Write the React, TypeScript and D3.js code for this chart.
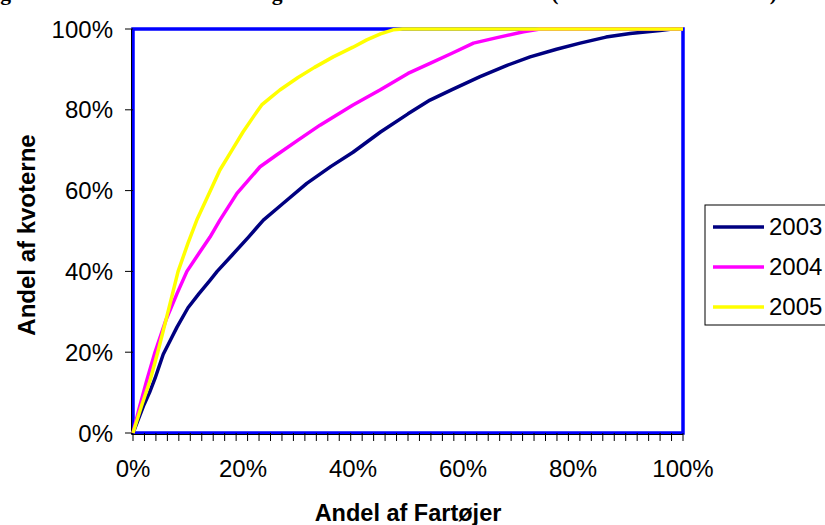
import React from "react";
import * as d3 from "d3";

const titleText =
  "Kumuleret fordeling af kvoterne i sildefiskeriet og torskefiskeriet i Vesterhavet (kvoteårene 2003 - 2005)";
const xLabel = "Andel af Fartøjer";
const yLabel = "Andel af kvoterne";
const seriesNames = ["2003", "2004", "2005"];
const seriesColors = ["#000080", "#FF00FF", "#FFFF00"];

// [share of vessels, share of quotas]
const data2003: [number, number][] = [
  [0, 0], [0.01, 0.035], [0.02, 0.07], [0.03, 0.1], [0.04, 0.135], [0.055, 0.195],
  [0.07, 0.235], [0.08, 0.262], [0.1, 0.31], [0.12, 0.345], [0.14, 0.378],
  [0.153, 0.4], [0.18, 0.44], [0.21, 0.485], [0.237, 0.527], [0.27, 0.565],
  [0.316, 0.618], [0.36, 0.66], [0.4, 0.695], [0.45, 0.745], [0.5, 0.79],
  [0.54, 0.824], [0.58, 0.85], [0.631, 0.882], [0.68, 0.91], [0.722, 0.931],
  [0.77, 0.95], [0.813, 0.965], [0.86, 0.98], [0.904, 0.989], [0.958, 0.996],
  [0.98, 1], [1, 1],
];
const data2004: [number, number][] = [
  [0, 0], [0.012, 0.065], [0.025, 0.13], [0.04, 0.2], [0.06, 0.28], [0.08, 0.345],
  [0.098, 0.4], [0.12, 0.445], [0.14, 0.485], [0.158, 0.527], [0.189, 0.593],
  [0.231, 0.659], [0.261, 0.688], [0.3, 0.725], [0.34, 0.762], [0.4, 0.812],
  [0.449, 0.849], [0.5, 0.89], [0.54, 0.915], [0.58, 0.94], [0.619, 0.965],
  [0.66, 0.978], [0.71, 0.993], [0.74, 1], [1, 1],
];
const data2005: [number, number][] = [
  [0, 0], [0.015, 0.065], [0.031, 0.13], [0.045, 0.2], [0.06, 0.28], [0.082, 0.4],
  [0.1, 0.47], [0.116, 0.527], [0.14, 0.598], [0.158, 0.651], [0.18, 0.7],
  [0.2, 0.745], [0.22, 0.785], [0.234, 0.812], [0.25, 0.83], [0.267, 0.849],
  [0.3, 0.88], [0.33, 0.905], [0.364, 0.931], [0.4, 0.955], [0.425, 0.973],
  [0.45, 0.988], [0.473, 0.998], [0.49, 1], [1, 1],
];
const allSeries = [data2003, data2004, data2005];
const yTicks = [0, 0.2, 0.4, 0.6, 0.8, 1];
const xLabelTicks = [0, 0.2, 0.4, 0.6, 0.8, 1];
const xMinorTickCount = 48;

export default function App() {
  const W = 825, H = 525;
  const left = 133, right = 683, top = 29, bottom = 433;
  const x = d3.scaleLinear().domain([0, 1]).range([left, right]);
  const y = d3.scaleLinear().domain([0, 1]).range([bottom, top]);
  const line = d3.line<[number, number]>().x((d) => x(d[0])).y((d) => y(d[1]));
  const pct = d3.format(".0%");
  const minorTicks = d3.range(0, xMinorTickCount + 1).map((i) => i / xMinorTickCount);
  const font = "'Liberation Sans', Arial, sans-serif";
  const legendX = 705, legendY = 205;
  return (
    <div style={{ position: "absolute", left: 0, top: 0 }}>
      <svg width={W} height={H} style={{ display: "block", background: "#fff" }}>
        <text
          x={777}
          y={0}
          textAnchor="end"
          fontFamily="'Liberation Serif', 'Times New Roman', serif"
          fontWeight="bold"
          fontSize={21.6}
        >
          {titleText}
        </text>
        {/* plot border */}
        <rect x={left} y={top} width={right - left} height={bottom - top} fill="#fff" stroke="#0000FF" strokeWidth={3.5} />
        <line x1={left - 1.5} x2={left - 1.5} y1={top} y2={bottom + 1} stroke="#000" strokeWidth={1} />
        <line x1={left - 1.5} x2={right} y1={bottom + 1.5} y2={bottom + 1.5} stroke="#000" strokeWidth={1} />
        {/* y axis */}
        {yTicks.map((t) => (
          <g key={t}>
            <line x1={left - 8} x2={left} y1={y(t)} y2={y(t)} stroke="#000" strokeWidth={1} />
            <text x={113} y={y(t)} dy="0.36em" textAnchor="end" fontFamily={font} fontSize={24}>
              {pct(t)}
            </text>
          </g>
        ))}
        {/* x axis */}
        {minorTicks.map((t, i) => (
          <line key={i} x1={x(t)} x2={x(t)} y1={bottom} y2={bottom + 8} stroke="#000" strokeWidth={1} />
        ))}
        {xLabelTicks.map((t) => (
          <text key={t} x={x(t)} y={477} textAnchor="middle" fontFamily={font} fontSize={24}>
            {pct(t)}
          </text>
        ))}
        {/* series */}
        {allSeries.map((s, i) => (
          <path key={i} d={line(s) || ""} fill="none" stroke={seriesColors[i]} strokeWidth={3.5} strokeLinejoin="round" />
        ))}
        {/* axis titles */}
        <text x={(left + right) / 2} y={521} textAnchor="middle" fontFamily={font} fontWeight="bold" fontSize={23.5}>
          {xLabel}
        </text>
        <text
          transform={`translate(35, ${(top + bottom) / 2 + 4}) rotate(-90)`}
          textAnchor="middle"
          fontFamily={font}
          fontWeight="bold"
          fontSize={24}
        >
          {yLabel}
        </text>
        {/* legend */}
        <rect x={legendX} y={legendY} width={140} height={120} fill="#fff" stroke="#000" strokeWidth={1} />
        {seriesNames.map((n, i) => {
          const ly = legendY + 22 + i * 40;
          return (
            <g key={n}>
              <line x1={713} x2={764} y1={ly} y2={ly} stroke={seriesColors[i]} strokeWidth={3.5} />
              <text x={769} y={ly + 8} fontFamily={font} fontSize={24}>
                {n}
              </text>
            </g>
          );
        })}
      </svg>
    </div>
  );
}
